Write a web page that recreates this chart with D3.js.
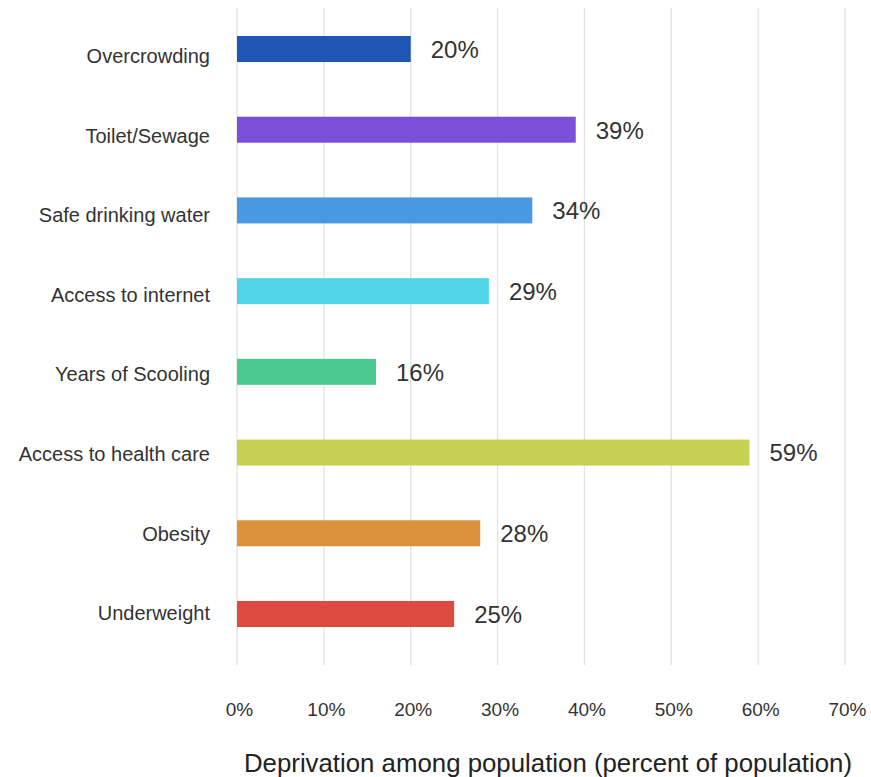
<!DOCTYPE html>
<html><head><meta charset="utf-8">
<script src="https://cdn.jsdelivr.net/npm/d3@7"></script>
<style>body{margin:0;background:#fff;}svg{display:block;font-family:"Liberation Sans",Arial,sans-serif;}</style>
</head><body>
<svg id="c" width="871" height="777"></svg>
<script>
const categories = ["Overcrowding","Toilet/Sewage","Safe drinking water","Access to internet","Years of Scooling","Access to health care","Obesity","Underweight"];
const values = [20,39,34,29,16,59,28,25];
const colors = ["#1f55b4","#7a50d8","#4a98e0","#4fd5e6","#4cc98f","#c6d152","#dc923b","#dc4a40"];
const tickValues = [0,10,20,30,40,50,60,70];
const axisTitle = "Deprivation among population (percent of population)";

const svg = d3.select("#c");
const x = d3.scaleLinear().domain([0,70]).range([237,845]);
const y = d3.scaleBand().domain(categories).range([36,627]).paddingInner(0.678).paddingOuter(0);
const yLab = d3.scalePoint().domain(categories).range([56,613]);

// gridlines
svg.append("g").selectAll("line").data(tickValues).join("line")
  .attr("x1",d=>x(d)).attr("x2",d=>x(d)).attr("y1",8).attr("y2",665)
  .attr("stroke","#e2e2e2").attr("stroke-width",1.3);

// bars
svg.append("g").selectAll("rect").data(categories).join("rect")
  .attr("x",x(0)).attr("y",d=>y(d)).attr("height",y.bandwidth())
  .attr("width",(d,i)=>x(values[i])-x(0)).attr("fill",(d,i)=>colors[i]);

// value labels
svg.append("g").selectAll("text").data(categories).join("text")
  .attr("x",(d,i)=>x(values[i])+20).attr("y",d=>y(d)+y.bandwidth()/2)
  .attr("dy","0.37em").attr("font-size",24).attr("fill","#333")
  .text((d,i)=>values[i]+"%");

// category labels
svg.append("g").selectAll("text").data(categories).join("text")
  .attr("x",210).attr("y",d=>yLab(d)).attr("dy","0.36em")
  .attr("text-anchor","end").attr("font-size",20).attr("fill","#333")
  .text(d=>d);

// x axis
const xAxis = d3.axisBottom(x).tickValues(tickValues).tickFormat(d=>d+"%").tickSize(0).tickPadding(0);
const gx = svg.append("g").attr("transform","translate(2,702)").call(xAxis);
gx.select(".domain").remove();
gx.selectAll("text").attr("font-size",19).attr("fill","#333").attr("font-family","Liberation Sans, Arial, sans-serif");

svg.append("text").attr("x",548).attr("y",772).attr("text-anchor","middle")
  .attr("font-size",25.8).attr("fill","#222").text(axisTitle);
</script>
</body></html>
